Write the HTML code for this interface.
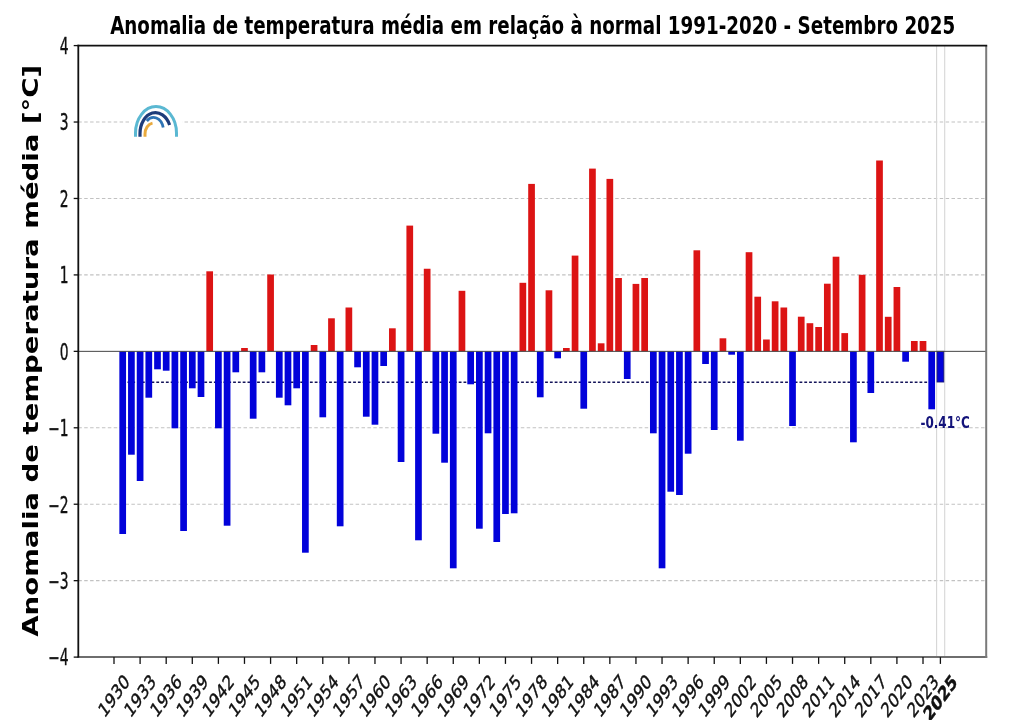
<!DOCTYPE html><html><head><meta charset="utf-8"><title>Anomalia de temperatura média - Setembro 2025</title><style>html,body{margin:0;padding:0;background:#fff;}svg{display:block;filter:blur(0.4px);}text{font-family:"DejaVu Sans","Liberation Sans",sans-serif;}</style></head><body>
<svg width="1024" height="720" viewBox="0 0 1024 720">
<rect x="0" y="0" width="1024" height="720" fill="#fff"/>
<line x1="78.3" y1="122.03" x2="986.2" y2="122.03" stroke="#c2c2c2" stroke-width="1.1" stroke-dasharray="3.5 2.4"/>
<line x1="78.3" y1="198.47" x2="986.2" y2="198.47" stroke="#c2c2c2" stroke-width="1.1" stroke-dasharray="3.5 2.4"/>
<line x1="78.3" y1="274.91" x2="986.2" y2="274.91" stroke="#c2c2c2" stroke-width="1.1" stroke-dasharray="3.5 2.4"/>
<line x1="78.3" y1="427.79" x2="986.2" y2="427.79" stroke="#c2c2c2" stroke-width="1.1" stroke-dasharray="3.5 2.4"/>
<line x1="78.3" y1="504.23" x2="986.2" y2="504.23" stroke="#c2c2c2" stroke-width="1.1" stroke-dasharray="3.5 2.4"/>
<line x1="78.3" y1="580.67" x2="986.2" y2="580.67" stroke="#c2c2c2" stroke-width="1.1" stroke-dasharray="3.5 2.4"/>
<line x1="936.6" y1="45.6" x2="936.6" y2="657.1" stroke="#d6d6d6" stroke-width="1.1"/>
<line x1="944.7" y1="45.6" x2="944.7" y2="657.1" stroke="#d6d6d6" stroke-width="1.1"/>
<line x1="122.70" y1="382.2" x2="928.86" y2="382.2" stroke="#14145a" stroke-width="1.4" stroke-dasharray="2.8 2.0"/>
<rect x="119.35" y="351.35" width="6.7" height="182.65" fill="#0202da"/>
<rect x="128.05" y="351.35" width="6.7" height="103.35" fill="#0202da"/>
<rect x="136.75" y="351.35" width="6.7" height="129.65" fill="#0202da"/>
<rect x="145.45" y="351.35" width="6.7" height="46.35" fill="#0202da"/>
<rect x="154.15" y="351.35" width="6.7" height="17.95" fill="#0202da"/>
<rect x="162.84" y="351.35" width="6.7" height="19.35" fill="#0202da"/>
<rect x="171.54" y="351.35" width="6.7" height="76.95" fill="#0202da"/>
<rect x="180.24" y="351.35" width="6.7" height="179.65" fill="#0202da"/>
<rect x="188.94" y="351.35" width="6.7" height="36.95" fill="#0202da"/>
<rect x="197.64" y="351.35" width="6.7" height="45.65" fill="#0202da"/>
<rect x="206.34" y="271.30" width="6.7" height="80.05" fill="#dc1414"/>
<rect x="215.04" y="351.35" width="6.7" height="76.95" fill="#0202da"/>
<rect x="223.74" y="351.35" width="6.7" height="174.35" fill="#0202da"/>
<rect x="232.44" y="351.35" width="6.7" height="20.95" fill="#0202da"/>
<rect x="241.13" y="348.00" width="6.7" height="3.35" fill="#dc1414"/>
<rect x="249.83" y="351.35" width="6.7" height="67.35" fill="#0202da"/>
<rect x="258.53" y="351.35" width="6.7" height="20.95" fill="#0202da"/>
<rect x="267.23" y="274.50" width="6.7" height="76.85" fill="#dc1414"/>
<rect x="275.93" y="351.35" width="6.7" height="46.35" fill="#0202da"/>
<rect x="284.63" y="351.35" width="6.7" height="53.95" fill="#0202da"/>
<rect x="293.33" y="351.35" width="6.7" height="36.95" fill="#0202da"/>
<rect x="302.03" y="351.35" width="6.7" height="201.35" fill="#0202da"/>
<rect x="310.73" y="345.00" width="6.7" height="6.35" fill="#dc1414"/>
<rect x="319.43" y="351.35" width="6.7" height="65.95" fill="#0202da"/>
<rect x="328.12" y="318.30" width="6.7" height="33.05" fill="#dc1414"/>
<rect x="336.82" y="351.35" width="6.7" height="174.95" fill="#0202da"/>
<rect x="345.52" y="307.50" width="6.7" height="43.85" fill="#dc1414"/>
<rect x="354.22" y="351.35" width="6.7" height="15.95" fill="#0202da"/>
<rect x="362.92" y="351.35" width="6.7" height="65.35" fill="#0202da"/>
<rect x="371.62" y="351.35" width="6.7" height="73.35" fill="#0202da"/>
<rect x="380.32" y="351.35" width="6.7" height="14.65" fill="#0202da"/>
<rect x="389.02" y="328.30" width="6.7" height="23.05" fill="#dc1414"/>
<rect x="397.72" y="351.35" width="6.7" height="110.65" fill="#0202da"/>
<rect x="406.42" y="225.60" width="6.7" height="125.75" fill="#dc1414"/>
<rect x="415.11" y="351.35" width="6.7" height="188.95" fill="#0202da"/>
<rect x="423.81" y="268.75" width="6.7" height="82.60" fill="#dc1414"/>
<rect x="432.51" y="351.35" width="6.7" height="82.35" fill="#0202da"/>
<rect x="441.21" y="351.35" width="6.7" height="111.35" fill="#0202da"/>
<rect x="449.91" y="351.35" width="6.7" height="216.95" fill="#0202da"/>
<rect x="458.61" y="290.80" width="6.7" height="60.55" fill="#dc1414"/>
<rect x="467.31" y="351.35" width="6.7" height="32.95" fill="#0202da"/>
<rect x="476.01" y="351.35" width="6.7" height="177.35" fill="#0202da"/>
<rect x="484.71" y="351.35" width="6.7" height="81.95" fill="#0202da"/>
<rect x="493.41" y="351.35" width="6.7" height="190.65" fill="#0202da"/>
<rect x="502.10" y="351.35" width="6.7" height="162.65" fill="#0202da"/>
<rect x="510.80" y="351.35" width="6.7" height="161.95" fill="#0202da"/>
<rect x="519.50" y="282.80" width="6.7" height="68.55" fill="#dc1414"/>
<rect x="528.20" y="183.90" width="6.7" height="167.45" fill="#dc1414"/>
<rect x="536.90" y="351.35" width="6.7" height="45.95" fill="#0202da"/>
<rect x="545.60" y="290.30" width="6.7" height="61.05" fill="#dc1414"/>
<rect x="554.30" y="351.35" width="6.7" height="6.95" fill="#0202da"/>
<rect x="563.00" y="348.00" width="6.7" height="3.35" fill="#dc1414"/>
<rect x="571.70" y="255.60" width="6.7" height="95.75" fill="#dc1414"/>
<rect x="580.40" y="351.35" width="6.7" height="57.35" fill="#0202da"/>
<rect x="589.09" y="168.60" width="6.7" height="182.75" fill="#dc1414"/>
<rect x="597.79" y="343.30" width="6.7" height="8.05" fill="#dc1414"/>
<rect x="606.49" y="178.90" width="6.7" height="172.45" fill="#dc1414"/>
<rect x="615.19" y="278.00" width="6.7" height="73.35" fill="#dc1414"/>
<rect x="623.89" y="351.35" width="6.7" height="27.65" fill="#0202da"/>
<rect x="632.59" y="283.90" width="6.7" height="67.45" fill="#dc1414"/>
<rect x="641.29" y="278.00" width="6.7" height="73.35" fill="#dc1414"/>
<rect x="649.99" y="351.35" width="6.7" height="81.95" fill="#0202da"/>
<rect x="658.69" y="351.35" width="6.7" height="216.95" fill="#0202da"/>
<rect x="667.39" y="351.35" width="6.7" height="140.35" fill="#0202da"/>
<rect x="676.08" y="351.35" width="6.7" height="143.65" fill="#0202da"/>
<rect x="684.78" y="351.35" width="6.7" height="102.35" fill="#0202da"/>
<rect x="693.48" y="250.30" width="6.7" height="101.05" fill="#dc1414"/>
<rect x="702.18" y="351.35" width="6.7" height="12.65" fill="#0202da"/>
<rect x="710.88" y="351.35" width="6.7" height="78.65" fill="#0202da"/>
<rect x="719.58" y="338.30" width="6.7" height="13.05" fill="#dc1414"/>
<rect x="728.28" y="351.35" width="6.7" height="3.35" fill="#0202da"/>
<rect x="736.98" y="351.35" width="6.7" height="89.35" fill="#0202da"/>
<rect x="745.68" y="252.20" width="6.7" height="99.15" fill="#dc1414"/>
<rect x="754.38" y="296.70" width="6.7" height="54.65" fill="#dc1414"/>
<rect x="763.07" y="339.50" width="6.7" height="11.85" fill="#dc1414"/>
<rect x="771.77" y="301.30" width="6.7" height="50.05" fill="#dc1414"/>
<rect x="780.47" y="307.50" width="6.7" height="43.85" fill="#dc1414"/>
<rect x="789.17" y="351.35" width="6.7" height="74.65" fill="#0202da"/>
<rect x="797.87" y="316.70" width="6.7" height="34.65" fill="#dc1414"/>
<rect x="806.57" y="323.20" width="6.7" height="28.15" fill="#dc1414"/>
<rect x="815.27" y="327.00" width="6.7" height="24.35" fill="#dc1414"/>
<rect x="823.97" y="283.70" width="6.7" height="67.65" fill="#dc1414"/>
<rect x="832.67" y="256.70" width="6.7" height="94.65" fill="#dc1414"/>
<rect x="841.37" y="333.10" width="6.7" height="18.25" fill="#dc1414"/>
<rect x="850.06" y="351.35" width="6.7" height="90.95" fill="#0202da"/>
<rect x="858.76" y="274.80" width="6.7" height="76.55" fill="#dc1414"/>
<rect x="867.46" y="351.35" width="6.7" height="41.65" fill="#0202da"/>
<rect x="876.16" y="160.50" width="6.7" height="190.85" fill="#dc1414"/>
<rect x="884.86" y="316.80" width="6.7" height="34.55" fill="#dc1414"/>
<rect x="893.56" y="287.00" width="6.7" height="64.35" fill="#dc1414"/>
<rect x="902.26" y="351.35" width="6.7" height="10.35" fill="#0202da"/>
<rect x="910.96" y="341.00" width="6.7" height="10.35" fill="#dc1414"/>
<rect x="919.66" y="341.00" width="6.7" height="10.35" fill="#dc1414"/>
<rect x="928.36" y="351.35" width="6.7" height="57.95" fill="#0202da"/>
<rect x="937.05" y="351.35" width="6.7" height="30.65" fill="#0202da" stroke="#12127a" stroke-width="0.9"/>
<line x1="78.3" y1="351.35" x2="986.2" y2="351.35" stroke="#444" stroke-width="1.0"/>
<line x1="77.5" y1="657.1" x2="987.2" y2="657.1" stroke="#6e6e6e" stroke-width="2"/>
<line x1="986.2" y1="45.6" x2="986.2" y2="658.1" stroke="#7a7a7a" stroke-width="2"/>
<line x1="77.5" y1="45.6" x2="987.2" y2="45.6" stroke="#111" stroke-width="1.7"/>
<line x1="78.3" y1="44.800000000000004" x2="78.3" y2="657.6" stroke="#111" stroke-width="1.8"/>
<line x1="73.7" y1="657.11" x2="78.3" y2="657.11" stroke="#111" stroke-width="1.3"/>
<text transform="translate(68.6,657.61) scale(0.625,1)" text-anchor="end" dominant-baseline="central" font-size="22.2" fill="#111" stroke="#111" stroke-width="0.4">−4</text>
<line x1="73.7" y1="580.67" x2="78.3" y2="580.67" stroke="#111" stroke-width="1.3"/>
<text transform="translate(68.6,581.17) scale(0.625,1)" text-anchor="end" dominant-baseline="central" font-size="22.2" fill="#111" stroke="#111" stroke-width="0.4">−3</text>
<line x1="73.7" y1="504.23" x2="78.3" y2="504.23" stroke="#111" stroke-width="1.3"/>
<text transform="translate(68.6,504.73) scale(0.625,1)" text-anchor="end" dominant-baseline="central" font-size="22.2" fill="#111" stroke="#111" stroke-width="0.4">−2</text>
<line x1="73.7" y1="427.79" x2="78.3" y2="427.79" stroke="#111" stroke-width="1.3"/>
<text transform="translate(68.6,428.29) scale(0.625,1)" text-anchor="end" dominant-baseline="central" font-size="22.2" fill="#111" stroke="#111" stroke-width="0.4">−1</text>
<line x1="73.7" y1="351.35" x2="78.3" y2="351.35" stroke="#111" stroke-width="1.3"/>
<text transform="translate(68.6,351.85) scale(0.625,1)" text-anchor="end" dominant-baseline="central" font-size="22.2" fill="#111" stroke="#111" stroke-width="0.4">0</text>
<line x1="73.7" y1="274.91" x2="78.3" y2="274.91" stroke="#111" stroke-width="1.3"/>
<text transform="translate(68.6,275.41) scale(0.625,1)" text-anchor="end" dominant-baseline="central" font-size="22.2" fill="#111" stroke="#111" stroke-width="0.4">1</text>
<line x1="73.7" y1="198.47" x2="78.3" y2="198.47" stroke="#111" stroke-width="1.3"/>
<text transform="translate(68.6,198.97) scale(0.625,1)" text-anchor="end" dominant-baseline="central" font-size="22.2" fill="#111" stroke="#111" stroke-width="0.4">2</text>
<line x1="73.7" y1="122.03" x2="78.3" y2="122.03" stroke="#111" stroke-width="1.3"/>
<text transform="translate(68.6,122.53) scale(0.625,1)" text-anchor="end" dominant-baseline="central" font-size="22.2" fill="#111" stroke="#111" stroke-width="0.4">3</text>
<line x1="73.7" y1="45.59" x2="78.3" y2="45.59" stroke="#111" stroke-width="1.3"/>
<text transform="translate(68.6,46.09) scale(0.625,1)" text-anchor="end" dominant-baseline="central" font-size="22.2" fill="#111" stroke="#111" stroke-width="0.4">4</text>
<line x1="114.00" y1="657.1" x2="114.00" y2="663.9" stroke="#111" stroke-width="1.3"/>
<text transform="translate(114.00,696) scale(0.73,1) rotate(-45)" text-anchor="middle" dominant-baseline="central" font-size="20" fill="#111" stroke="#111" stroke-width="0.45">1930</text>
<line x1="140.10" y1="657.1" x2="140.10" y2="663.9" stroke="#111" stroke-width="1.3"/>
<text transform="translate(140.10,696) scale(0.73,1) rotate(-45)" text-anchor="middle" dominant-baseline="central" font-size="20" fill="#111" stroke="#111" stroke-width="0.45">1933</text>
<line x1="166.19" y1="657.1" x2="166.19" y2="663.9" stroke="#111" stroke-width="1.3"/>
<text transform="translate(166.19,696) scale(0.73,1) rotate(-45)" text-anchor="middle" dominant-baseline="central" font-size="20" fill="#111" stroke="#111" stroke-width="0.45">1936</text>
<line x1="192.29" y1="657.1" x2="192.29" y2="663.9" stroke="#111" stroke-width="1.3"/>
<text transform="translate(192.29,696) scale(0.73,1) rotate(-45)" text-anchor="middle" dominant-baseline="central" font-size="20" fill="#111" stroke="#111" stroke-width="0.45">1939</text>
<line x1="218.39" y1="657.1" x2="218.39" y2="663.9" stroke="#111" stroke-width="1.3"/>
<text transform="translate(218.39,696) scale(0.73,1) rotate(-45)" text-anchor="middle" dominant-baseline="central" font-size="20" fill="#111" stroke="#111" stroke-width="0.45">1942</text>
<line x1="244.48" y1="657.1" x2="244.48" y2="663.9" stroke="#111" stroke-width="1.3"/>
<text transform="translate(244.48,696) scale(0.73,1) rotate(-45)" text-anchor="middle" dominant-baseline="central" font-size="20" fill="#111" stroke="#111" stroke-width="0.45">1945</text>
<line x1="270.58" y1="657.1" x2="270.58" y2="663.9" stroke="#111" stroke-width="1.3"/>
<text transform="translate(270.58,696) scale(0.73,1) rotate(-45)" text-anchor="middle" dominant-baseline="central" font-size="20" fill="#111" stroke="#111" stroke-width="0.45">1948</text>
<line x1="296.68" y1="657.1" x2="296.68" y2="663.9" stroke="#111" stroke-width="1.3"/>
<text transform="translate(296.68,696) scale(0.73,1) rotate(-45)" text-anchor="middle" dominant-baseline="central" font-size="20" fill="#111" stroke="#111" stroke-width="0.45">1951</text>
<line x1="322.78" y1="657.1" x2="322.78" y2="663.9" stroke="#111" stroke-width="1.3"/>
<text transform="translate(322.78,696) scale(0.73,1) rotate(-45)" text-anchor="middle" dominant-baseline="central" font-size="20" fill="#111" stroke="#111" stroke-width="0.45">1954</text>
<line x1="348.87" y1="657.1" x2="348.87" y2="663.9" stroke="#111" stroke-width="1.3"/>
<text transform="translate(348.87,696) scale(0.73,1) rotate(-45)" text-anchor="middle" dominant-baseline="central" font-size="20" fill="#111" stroke="#111" stroke-width="0.45">1957</text>
<line x1="374.97" y1="657.1" x2="374.97" y2="663.9" stroke="#111" stroke-width="1.3"/>
<text transform="translate(374.97,696) scale(0.73,1) rotate(-45)" text-anchor="middle" dominant-baseline="central" font-size="20" fill="#111" stroke="#111" stroke-width="0.45">1960</text>
<line x1="401.07" y1="657.1" x2="401.07" y2="663.9" stroke="#111" stroke-width="1.3"/>
<text transform="translate(401.07,696) scale(0.73,1) rotate(-45)" text-anchor="middle" dominant-baseline="central" font-size="20" fill="#111" stroke="#111" stroke-width="0.45">1963</text>
<line x1="427.16" y1="657.1" x2="427.16" y2="663.9" stroke="#111" stroke-width="1.3"/>
<text transform="translate(427.16,696) scale(0.73,1) rotate(-45)" text-anchor="middle" dominant-baseline="central" font-size="20" fill="#111" stroke="#111" stroke-width="0.45">1966</text>
<line x1="453.26" y1="657.1" x2="453.26" y2="663.9" stroke="#111" stroke-width="1.3"/>
<text transform="translate(453.26,696) scale(0.73,1) rotate(-45)" text-anchor="middle" dominant-baseline="central" font-size="20" fill="#111" stroke="#111" stroke-width="0.45">1969</text>
<line x1="479.36" y1="657.1" x2="479.36" y2="663.9" stroke="#111" stroke-width="1.3"/>
<text transform="translate(479.36,696) scale(0.73,1) rotate(-45)" text-anchor="middle" dominant-baseline="central" font-size="20" fill="#111" stroke="#111" stroke-width="0.45">1972</text>
<line x1="505.45" y1="657.1" x2="505.45" y2="663.9" stroke="#111" stroke-width="1.3"/>
<text transform="translate(505.45,696) scale(0.73,1) rotate(-45)" text-anchor="middle" dominant-baseline="central" font-size="20" fill="#111" stroke="#111" stroke-width="0.45">1975</text>
<line x1="531.55" y1="657.1" x2="531.55" y2="663.9" stroke="#111" stroke-width="1.3"/>
<text transform="translate(531.55,696) scale(0.73,1) rotate(-45)" text-anchor="middle" dominant-baseline="central" font-size="20" fill="#111" stroke="#111" stroke-width="0.45">1978</text>
<line x1="557.65" y1="657.1" x2="557.65" y2="663.9" stroke="#111" stroke-width="1.3"/>
<text transform="translate(557.65,696) scale(0.73,1) rotate(-45)" text-anchor="middle" dominant-baseline="central" font-size="20" fill="#111" stroke="#111" stroke-width="0.45">1981</text>
<line x1="583.75" y1="657.1" x2="583.75" y2="663.9" stroke="#111" stroke-width="1.3"/>
<text transform="translate(583.75,696) scale(0.73,1) rotate(-45)" text-anchor="middle" dominant-baseline="central" font-size="20" fill="#111" stroke="#111" stroke-width="0.45">1984</text>
<line x1="609.84" y1="657.1" x2="609.84" y2="663.9" stroke="#111" stroke-width="1.3"/>
<text transform="translate(609.84,696) scale(0.73,1) rotate(-45)" text-anchor="middle" dominant-baseline="central" font-size="20" fill="#111" stroke="#111" stroke-width="0.45">1987</text>
<line x1="635.94" y1="657.1" x2="635.94" y2="663.9" stroke="#111" stroke-width="1.3"/>
<text transform="translate(635.94,696) scale(0.73,1) rotate(-45)" text-anchor="middle" dominant-baseline="central" font-size="20" fill="#111" stroke="#111" stroke-width="0.45">1990</text>
<line x1="662.04" y1="657.1" x2="662.04" y2="663.9" stroke="#111" stroke-width="1.3"/>
<text transform="translate(662.04,696) scale(0.73,1) rotate(-45)" text-anchor="middle" dominant-baseline="central" font-size="20" fill="#111" stroke="#111" stroke-width="0.45">1993</text>
<line x1="688.13" y1="657.1" x2="688.13" y2="663.9" stroke="#111" stroke-width="1.3"/>
<text transform="translate(688.13,696) scale(0.73,1) rotate(-45)" text-anchor="middle" dominant-baseline="central" font-size="20" fill="#111" stroke="#111" stroke-width="0.45">1996</text>
<line x1="714.23" y1="657.1" x2="714.23" y2="663.9" stroke="#111" stroke-width="1.3"/>
<text transform="translate(714.23,696) scale(0.73,1) rotate(-45)" text-anchor="middle" dominant-baseline="central" font-size="20" fill="#111" stroke="#111" stroke-width="0.45">1999</text>
<line x1="740.33" y1="657.1" x2="740.33" y2="663.9" stroke="#111" stroke-width="1.3"/>
<text transform="translate(740.33,696) scale(0.73,1) rotate(-45)" text-anchor="middle" dominant-baseline="central" font-size="20" fill="#111" stroke="#111" stroke-width="0.45">2002</text>
<line x1="766.42" y1="657.1" x2="766.42" y2="663.9" stroke="#111" stroke-width="1.3"/>
<text transform="translate(766.42,696) scale(0.73,1) rotate(-45)" text-anchor="middle" dominant-baseline="central" font-size="20" fill="#111" stroke="#111" stroke-width="0.45">2005</text>
<line x1="792.52" y1="657.1" x2="792.52" y2="663.9" stroke="#111" stroke-width="1.3"/>
<text transform="translate(792.52,696) scale(0.73,1) rotate(-45)" text-anchor="middle" dominant-baseline="central" font-size="20" fill="#111" stroke="#111" stroke-width="0.45">2008</text>
<line x1="818.62" y1="657.1" x2="818.62" y2="663.9" stroke="#111" stroke-width="1.3"/>
<text transform="translate(818.62,696) scale(0.73,1) rotate(-45)" text-anchor="middle" dominant-baseline="central" font-size="20" fill="#111" stroke="#111" stroke-width="0.45">2011</text>
<line x1="844.72" y1="657.1" x2="844.72" y2="663.9" stroke="#111" stroke-width="1.3"/>
<text transform="translate(844.72,696) scale(0.73,1) rotate(-45)" text-anchor="middle" dominant-baseline="central" font-size="20" fill="#111" stroke="#111" stroke-width="0.45">2014</text>
<line x1="870.81" y1="657.1" x2="870.81" y2="663.9" stroke="#111" stroke-width="1.3"/>
<text transform="translate(870.81,696) scale(0.73,1) rotate(-45)" text-anchor="middle" dominant-baseline="central" font-size="20" fill="#111" stroke="#111" stroke-width="0.45">2017</text>
<line x1="896.91" y1="657.1" x2="896.91" y2="663.9" stroke="#111" stroke-width="1.3"/>
<text transform="translate(896.91,696) scale(0.73,1) rotate(-45)" text-anchor="middle" dominant-baseline="central" font-size="20" fill="#111" stroke="#111" stroke-width="0.45">2020</text>
<line x1="923.01" y1="657.1" x2="923.01" y2="663.9" stroke="#111" stroke-width="1.3"/>
<text transform="translate(923.01,696) scale(0.73,1) rotate(-45)" text-anchor="middle" dominant-baseline="central" font-size="20" fill="#111" stroke="#111" stroke-width="0.45">2023</text>
<line x1="940.40" y1="657.1" x2="940.40" y2="663.9" stroke="#111" stroke-width="1.3"/>
<text transform="translate(940.40,698) scale(0.73,1) rotate(-45)" text-anchor="middle" dominant-baseline="central" font-size="20" fill="#111" stroke="#111" stroke-width="0.45" font-weight="bold">2025</text>
<text transform="translate(110.2,33.6) scale(0.7625,1)" font-size="24" font-weight="bold" fill="#000">Anomalia de temperatura média em relação à normal 1991-2020 - Setembro 2025</text>
<text transform="translate(37.9,636.7) scale(0.76,1) rotate(-90)" font-size="27.57" font-weight="bold" fill="#000">Anomalia de temperatura média [°C]</text>
<text transform="translate(920.4,428.2) scale(0.80,1)" font-size="15" font-weight="bold" fill="#13137a">-0.41°C</text>
<rect x="131.3" y="97" width="50.7" height="45" fill="#fff"/>
<g fill="none" stroke-linecap="butt">
<path d="M135.5,136.8 L135.5,133 A20.5,26.4 0 0 1 176.5,133 L176.5,136.8" stroke="#5ab8d2" stroke-width="3"/>
<path d="M140,136.8 L140,133.5 A15.5,21 0 0 1 169.6,124.9" stroke="#1d3c7a" stroke-width="3.2"/>
<path d="M146.8,121 A10,13.5 0 0 1 163.2,127.6" stroke="#2e74b5" stroke-width="2.8"/>
<path d="M145,136.8 L145,134 A9,11 0 0 1 152.5,123.1" stroke="#e9aa3e" stroke-width="3"/>
</g>
</svg></body></html>
